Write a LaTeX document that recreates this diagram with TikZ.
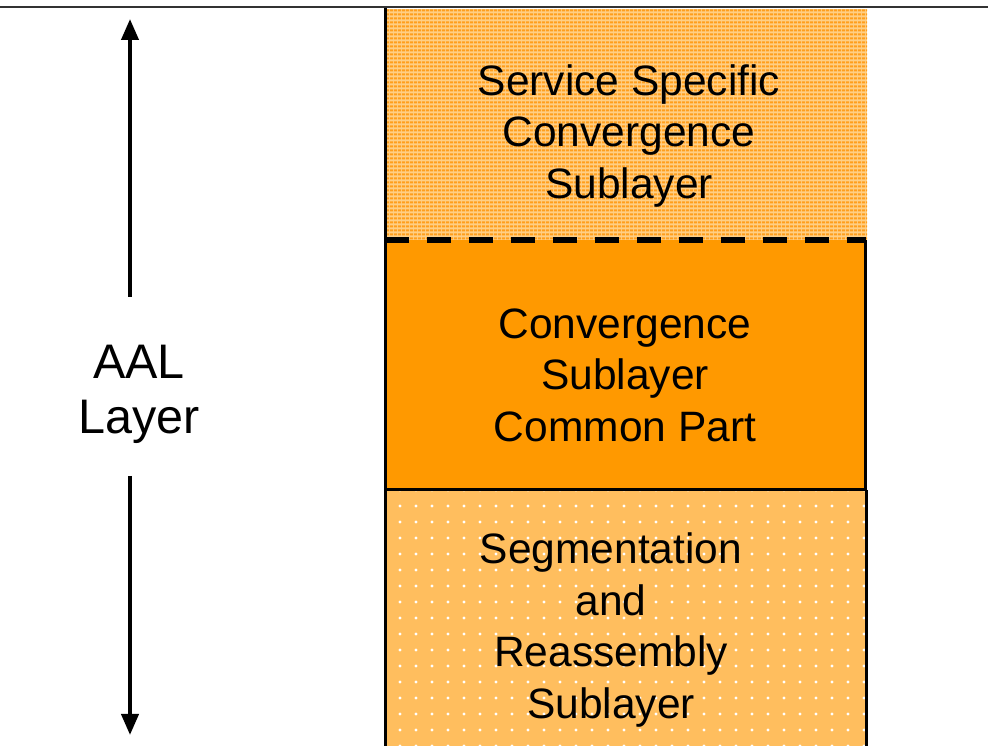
\documentclass[tikz,border=0pt]{standalone}
\usepackage{fontspec}
\setmainfont{Liberation Sans}
\usetikzlibrary{arrows.meta,patterns.meta}
\definecolor{midor}{HTML}{FF9900}
\definecolor{stripeA}{HTML}{FF9E1C}
\definecolor{stripeB}{HTML}{FFCF85}
\definecolor{dotbg}{HTML}{FFBE5E}
\definecolor{rulegray}{HTML}{333333}
\tikzset{
  lbl/.style={font=\fontsize{42.5}{51.5}\selectfont, align=center, inner sep=0pt},
  biglbl/.style={font=\fontsize{48.5}{55}\selectfont, align=center, inner sep=0pt},
  border/.style={line width=3pt, black},
  bigarrow/.style={line width=4pt, -{Triangle[width=17pt,length=21pt]}},
}
\begin{document}
\begin{tikzpicture}[x=1pt,y=1pt]
\useasboundingbox (0,0) rectangle (988,746);
% top rule
\draw[rulegray, line width=2pt] (0,739) -- (988,739);
% top box (SSCS)
\fill[stripeB] (385,506) rectangle (867,737);
\fill[pattern={Lines[angle=0,distance=4pt,line width=2.6pt]}, pattern color=stripeA] (385,506) rectangle (867,737);
\node[lbl] (sscs) at (629,610) {Service Specific\\Convergence\\Sublayer};
% middle box (CPCS)
\fill[midor] (385,256) rectangle (865,506);
\node[lbl] (cpcs) at (625,371) {Convergence\\Sublayer\\Common Part};
% bottom box (SAR)
\fill[dotbg] (385,0) rectangle (866,256);
\fill[pattern={Dots[distance=16pt,radius=1.6pt]}, pattern color=white] (385,0) rectangle (866,256);
\node[lbl] (sar) at (611,116) {Segmentation\\and\\Reassembly\\Sublayer};
% borders
\draw[border] (385,738) -- (385,0);
\draw[border] (865,506) -- (865,256) -- (385,256);
\draw[border] (866,256) -- (866,0);
\draw[line width=5.5pt, dash pattern=on 24pt off 18pt] (385,506) -- (866,506);
% AAL label and arrows
\node[biglbl] (aal) at (139,352) {AAL\\Layer};
\coordinate (atop) at (130,727);
\coordinate (abot) at (130,11);
\coordinate (astart1) at (130,449);
\coordinate (astart2) at (130,270);
\draw[bigarrow] (astart1) -- (atop);
\draw[bigarrow] (astart2) -- (abot);
\end{tikzpicture}
\end{document}
